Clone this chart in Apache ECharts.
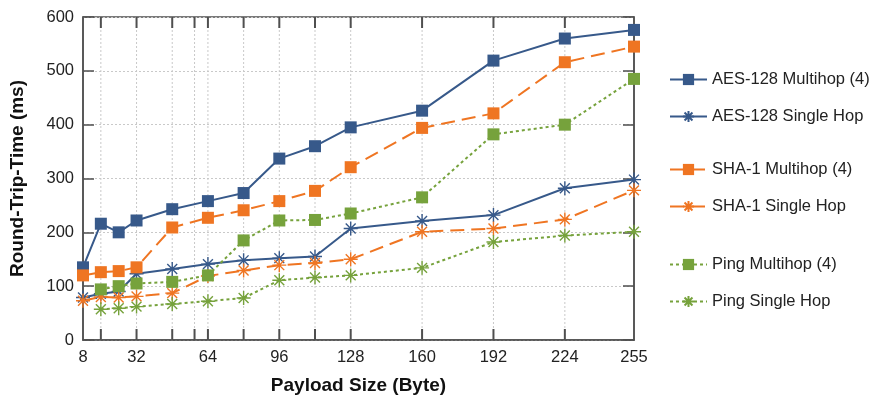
<!DOCTYPE html>
<html>
<head>
<meta charset="utf-8">
<script src="https://cdn.jsdelivr.net/npm/echarts@6/dist/echarts.min.js"></script>
<style>
html,body{margin:0;padding:0;background:#fff;}
#chart{width:880px;height:400px;}
</style>
</head>
<body>
<div id="chart"></div>
<script>
// ---- data ----
var payload = [8, 16, 24, 32, 48, 64, 80, 96, 112, 128, 160, 192, 224, 255];
var aesMulti   = [135, 216, 200, 222, 243, 258, 273, 337, 360, 395, 426, 519, 560, 576];
var aesSingle  = [79, 86, 90, 123, 132, 141, 148, 152, 155, 207, 221, 232, 282, 298];
var shaMulti   = [120, 126, 128, 135, 209, 227, 241, 258, 277, 321, 394, 421, 516, 545];
var shaSingle  = [73, 80, 79, 81, 87, 119, 129, 139, 143, 150, 201, 207, 224, 278];
var pingMulti  = [null, 94, 100, 105, 108, 120, 185, 222, 223, 235, 265, 382, 400, 485];
var pingSingle = [null, 57, 59, 62, 67, 72, 78, 111, 116, 120, 134, 182, 194, 201];
var xLabelValues = [8, 32, 64, 96, 128, 160, 192, 224, 255];
var xTickValues = [16, 32, 48, 58, 64, 80, 96, 112, 128, 160, 192, 224];
var yMin = 0, yMax = 600, yStep = 100;
var seriesNames = ['AES-128 Multihop (4)', 'AES-128 Single Hop', 'SHA-1 Multihop (4)', 'SHA-1 Single Hop', 'Ping Multihop (4)', 'Ping Single Hop'];

// ---- styles ----
var BLUE = '#37598a', ORANGE = '#ef7522', GREEN = '#76a23c';
var AXIS = '#4f4f4f';
var GRIDC = '#c9c9c9';
var TICK_PX = 11, TICK_W = 2;
var STAR = 'path://M0,-10L0,10M-10,0L10,0M-7.07,-7.07L7.07,7.07M-7.07,7.07L7.07,-7.07';

function pairs(ys) {
  var out = [];
  for (var i = 0; i < payload.length; i++) {
    if (ys[i] !== null) out.push([payload[i], ys[i]]);
  }
  return out;
}
function mk(name, ys, color, lineType, symbol) {
  var isStar = symbol === 'star';
  return {
    name: name, type: 'line', data: pairs(ys), z: 3,
    symbol: isStar ? STAR : 'rect',
    symbolSize: isStar ? 14 : 12,
    lineStyle: { color: color, width: 2, type: lineType },
    itemStyle: isStar ? { color: color, borderColor: color, borderWidth: 1.4 } : { color: color, borderWidth: 0 },
    emphasis: { disabled: true }
  };
}

var chart = echarts.init(document.getElementById('chart'), null, { renderer: 'canvas' });
var legendBase = {
  orient: 'vertical', left: 664, itemWidth: 37, itemHeight: 14, itemGap: 20,
  textStyle: { fontSize: 16.5, color: '#222', fontFamily: 'Liberation Sans, Arial, sans-serif' },
  selectedMode: false
};
function legend(top, names) {
  var l = Object.assign({}, legendBase);
  l.top = top; l.data = names;
  return l;
}

// vertical grid lines + inward ticks (bottom and top) at the tick values, via the axis scale
function tickRender(params, api) {
  var v = api.value(0);
  var pb = api.coord([v, yMin]);
  var pt = api.coord([v, yMax]);
  return {
    type: 'group',
    children: [
      { type: 'line', shape: { x1: pb[0], y1: pb[1], x2: pt[0], y2: pt[1] },
        style: { stroke: GRIDC, lineWidth: 1, lineDash: [2, 2] }, z2: 0 },
      { type: 'rect', shape: { x: pb[0] - TICK_W / 2, y: pb[1] - TICK_PX, width: TICK_W, height: TICK_PX },
        style: { fill: AXIS }, z2: 5 },
      { type: 'rect', shape: { x: pt[0] - TICK_W / 2, y: pt[1], width: TICK_W, height: TICK_PX },
        style: { fill: AXIS }, z2: 5 }
    ]
  };
}

var option = {
  animation: false,
  backgroundColor: '#fff',
  textStyle: { fontFamily: 'Liberation Sans, Arial, sans-serif' },
  grid: { left: 83, right: 246, top: 17, bottom: 57, show: true, borderColor: AXIS, borderWidth: 1.5, backgroundColor: 'transparent' },
  legend: [
    legend(66, seriesNames.slice(0, 2)),
    legend(156, seriesNames.slice(2, 4)),
    legend(251, seriesNames.slice(4, 6))
  ],
  xAxis: [{
    type: 'value', min: 8, max: 255, position: 'bottom',
    name: 'Payload Size (Byte)', nameLocation: 'middle', nameGap: 36,
    nameTextStyle: { fontSize: 19, fontWeight: 'bold', color: '#111' },
    axisLine: { show: true, lineStyle: { color: AXIS, width: 1.5 } },
    axisTick: { show: false },
    axisLabel: { customValues: xLabelValues, fontSize: 16.5, color: '#222', margin: 9 },
    splitLine: { show: false }
  }],
  yAxis: [{
    type: 'value', min: yMin, max: yMax, interval: yStep, position: 'left',
    name: 'Round-Trip-Time (ms)', nameLocation: 'middle', nameGap: 56,
    nameTextStyle: { fontSize: 19, fontWeight: 'bold', color: '#111' },
    axisLine: { show: true, lineStyle: { color: AXIS, width: 1.5 } },
    axisTick: { show: true, inside: true, length: 11, lineStyle: { color: AXIS, width: 1.5 } },
    axisLabel: { fontSize: 16.5, color: '#222', margin: 9 },
    splitLine: { show: true, lineStyle: { color: GRIDC, width: 1, type: [2, 2] } }
  }, {
    type: 'value', min: yMin, max: yMax, interval: yStep, position: 'right',
    axisLine: { show: true, lineStyle: { color: AXIS, width: 1.5 } },
    axisTick: { show: true, inside: true, length: 11, lineStyle: { color: AXIS, width: 1.5 } },
    axisLabel: { show: false },
    splitLine: { show: false }
  }],
  series: [
    {
      name: 'x-grid', type: 'custom', z: 2, silent: true, clip: false,
      data: xTickValues.map(function (v) { return [v, yMin]; }),
      encode: { x: 0, y: 1 },
      renderItem: tickRender
    },
    mk(seriesNames[0], aesMulti, BLUE, 'solid', 'rect'),
    mk(seriesNames[1], aesSingle, BLUE, 'solid', 'star'),
    mk(seriesNames[2], shaMulti, ORANGE, [14, 7], 'rect'),
    mk(seriesNames[3], shaSingle, ORANGE, [14, 7], 'star'),
    mk(seriesNames[4], pingMulti, GREEN, [3, 3], 'rect'),
    mk(seriesNames[5], pingSingle, GREEN, [3, 3], 'star')
  ]
};
chart.setOption(option);
</script>
</body>
</html>
